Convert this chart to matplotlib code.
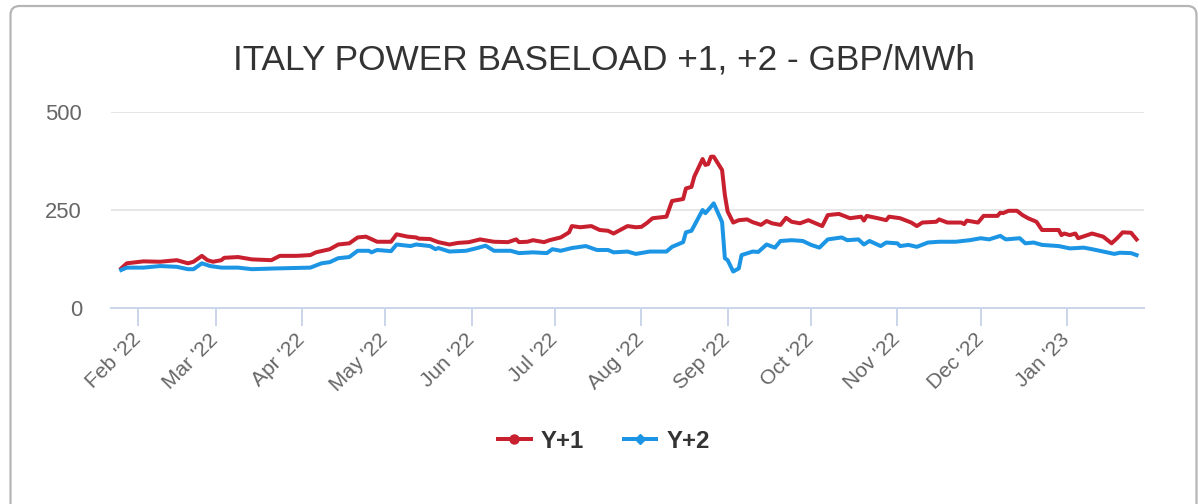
# coding: utf-8
import numpy as np
import pandas as pd
import matplotlib
matplotlib.use("Agg")
import matplotlib.pyplot as plt
import matplotlib.dates as mdates
import matplotlib.transforms as mtransforms
from matplotlib.lines import Line2D
from matplotlib.patches import FancyBboxPatch

out_file = 'out.png'

title = "ITALY POWER BASELOAD +1, +2 - GBP/MWh"
series_names = ['Y+1', 'Y+2']

# Y+1
y1_dates = [
	'2022-01-26', '2022-01-28', '2022-02-03', '2022-02-09', '2022-02-15', '2022-02-19',
	'2022-02-21', '2022-02-24', '2022-02-26', '2022-02-28', '2022-03-03', '2022-03-04',
	'2022-03-09', '2022-03-14', '2022-03-21', '2022-03-24', '2022-03-30', '2022-04-04',
	'2022-04-06', '2022-04-11', '2022-04-14', '2022-04-18', '2022-04-21', '2022-04-24',
	'2022-04-28', '2022-05-03', '2022-05-05', '2022-05-09', '2022-05-12', '2022-05-13',
	'2022-05-17', '2022-05-20', '2022-05-24', '2022-05-27', '2022-05-31', '2022-06-04',
	'2022-06-09', '2022-06-14', '2022-06-17', '2022-06-18', '2022-06-21', '2022-06-23',
	'2022-06-27', '2022-06-29', '2022-07-03', '2022-07-06', '2022-07-07', '2022-07-10',
	'2022-07-14', '2022-07-17', '2022-07-20', '2022-07-22', '2022-07-27', '2022-07-30',
	'2022-08-01', '2022-08-03', '2022-08-05', '2022-08-10', '2022-08-12', '2022-08-16',
	'2022-08-17', '2022-08-19', '2022-08-20', '2022-08-23', '2022-08-24', '2022-08-25',
	'2022-08-26', '2022-08-27', '2022-08-30', '2022-08-31', '2022-09-01', '2022-09-03',
	'2022-09-05', '2022-09-08', '2022-09-10', '2022-09-13', '2022-09-15', '2022-09-17',
	'2022-09-20', '2022-09-22', '2022-09-24', '2022-09-27', '2022-09-30', '2022-10-05',
	'2022-10-07', '2022-10-11', '2022-10-15', '2022-10-19', '2022-10-20', '2022-10-21',
	'2022-10-25', '2022-10-28', '2022-10-29', '2022-11-02', '2022-11-06', '2022-11-08',
	'2022-11-10', '2022-11-15', '2022-11-16', '2022-11-19', '2022-11-24', '2022-11-25',
	'2022-11-26', '2022-11-30', '2022-12-02', '2022-12-07', '2022-12-08', '2022-12-09',
	'2022-12-11', '2022-12-14', '2022-12-16', '2022-12-18', '2022-12-21', '2022-12-23',
	'2022-12-29', '2022-12-30', '2022-12-31', '2023-01-02', '2023-01-04', '2023-01-05',
	'2023-01-10', '2023-01-14', '2023-01-17', '2023-01-19', '2023-01-21', '2023-01-24',
	'2023-01-26',
]
y1_values = [
	101, 114, 119, 118, 122, 114,
	118, 133, 122, 118, 122, 128,
	130, 124, 122, 133, 133, 135,
	142, 150, 162, 165, 180, 182,
	169, 169, 188, 182, 180, 177,
	176, 168, 162, 166, 168, 175,
	169, 168, 175, 168, 169, 173,
	168, 173, 180, 193, 209, 206,
	209, 199, 197, 190, 209, 206,
	207, 217, 229, 233, 273, 278,
	305, 309, 335, 380, 365, 367,
	386, 386, 352, 288, 246, 218,
	224, 226, 219, 212, 222, 216,
	212, 230, 220, 216, 224, 209,
	237, 240, 229, 233, 223, 235,
	229, 224, 233, 229, 218, 209,
	218, 220, 226, 218, 218, 214,
	223, 218, 235, 235, 243, 242,
	248, 248, 237, 229, 220, 199,
	199, 186, 190, 186, 190, 178,
	190, 182, 165, 178, 193, 192,
	175,
]

# Y+2
y2_dates = [
	'2022-01-26', '2022-01-28', '2022-02-03', '2022-02-09', '2022-02-15', '2022-02-19',
	'2022-02-21', '2022-02-24', '2022-02-27', '2022-03-03', '2022-03-09', '2022-03-14',
	'2022-03-23', '2022-04-04', '2022-04-08', '2022-04-11', '2022-04-14', '2022-04-18',
	'2022-04-21', '2022-04-25', '2022-04-26', '2022-04-28', '2022-05-03', '2022-05-05',
	'2022-05-10', '2022-05-12', '2022-05-17', '2022-05-19', '2022-05-20', '2022-05-24',
	'2022-05-30', '2022-06-03', '2022-06-06', '2022-06-09', '2022-06-15', '2022-06-18',
	'2022-06-23', '2022-06-28', '2022-06-30', '2022-07-03', '2022-07-07', '2022-07-12',
	'2022-07-16', '2022-07-20', '2022-07-22', '2022-07-27', '2022-07-30', '2022-08-04',
	'2022-08-10', '2022-08-12', '2022-08-16', '2022-08-17', '2022-08-19', '2022-08-23',
	'2022-08-24', '2022-08-25', '2022-08-27', '2022-08-30', '2022-08-31', '2022-09-01',
	'2022-09-03', '2022-09-05', '2022-09-06', '2022-09-10', '2022-09-12', '2022-09-15',
	'2022-09-18', '2022-09-20', '2022-09-24', '2022-09-28', '2022-10-01', '2022-10-04',
	'2022-10-07', '2022-10-12', '2022-10-14', '2022-10-18', '2022-10-20', '2022-10-22',
	'2022-10-26', '2022-10-28', '2022-11-01', '2022-11-02', '2022-11-05', '2022-11-08',
	'2022-11-12', '2022-11-16', '2022-11-22', '2022-11-27', '2022-12-01', '2022-12-04',
	'2022-12-08', '2022-12-10', '2022-12-15', '2022-12-17', '2022-12-20', '2022-12-23',
	'2022-12-29', '2023-01-02', '2023-01-07', '2023-01-10', '2023-01-14', '2023-01-18',
	'2023-01-20', '2023-01-24', '2023-01-26',
]
y2_values = [
	97, 103, 103, 107, 105, 99,
	99, 114, 107, 103, 103, 99,
	101, 103, 114, 117, 127, 130,
	146, 146, 142, 148, 145, 162,
	158, 162, 158, 150, 153, 144,
	146, 153, 159, 146, 146, 140,
	142, 140, 150, 146, 153, 158,
	148, 148, 142, 144, 138, 144,
	144, 156, 168, 193, 197, 250,
	242, 250, 267, 219, 127, 122,
	93, 101, 135, 144, 143, 162,
	154, 171, 173, 171, 161, 154,
	175, 180, 173, 175, 162, 171,
	158, 167, 165, 158, 161, 156,
	167, 169, 169, 173, 178, 175,
	184, 175, 178, 165, 167, 161,
	158, 152, 154, 150, 144, 138,
	141, 140, 135,
]

colors = ['#c8202f', '#1c95e4']
markers = ['o', 'D']

def px(v):
	# pixels -> points at dpi 100
	return v * 0.72

def make_graph(path):
	fig = plt.figure(figsize=(11.98, 5.04), dpi=100)
	plt.rcParams['font.family'] = ['Liberation Sans', 'DejaVu Sans']

	# rounded frame around the chart
	frame = FancyBboxPatch((10.5, -20), 1186, 518,
		boxstyle='round,pad=0,rounding_size=9', transform=None,
		facecolor='none', edgecolor='#b5b5b5', linewidth=px(2.2))
	fig.add_artist(frame)

	ax = fig.add_axes([111 / 1198, 1 - 308 / 504, (1144 - 111) / 1198, (308 - 112) / 504])

	series = [(y1_dates, y1_values), (y2_dates, y2_values)]
	for (d, v), c in zip(series, colors):
		ax.plot(pd.to_datetime(d), v, color=c, lw=px(4), solid_joinstyle='round', zorder=3)

	ax.set_ylim(0, 500)
	ax.set_yticks([0, 250, 500])
	ax.set_xlim(pd.Timestamp('2022-01-22 08:00'), pd.Timestamp('2023-01-28 16:00'))
	ax.xaxis.set_major_locator(mdates.MonthLocator())
	ax.xaxis.set_major_formatter(mdates.DateFormatter("%b '%y"))

	ax.grid(axis='y', color='#e6e6e6', lw=px(2))
	ax.set_axisbelow(True)
	for s in ['top', 'right', 'left']:
		ax.spines[s].set_visible(False)
	ax.spines['bottom'].set_color('#ccd6eb')
	ax.spines['bottom'].set_linewidth(px(2))
	ax.spines['bottom'].set_zorder(4)

	ax.tick_params(axis='y', length=0, pad=px(29), labelsize=px(22), labelcolor='#666666')
	ax.tick_params(axis='x', length=px(18), width=px(2), color='#ccd6eb',
		pad=px(6), labelsize=px(21), labelcolor='#666666')
	shift = mtransforms.ScaledTranslation(-7 / 100, 2 / 100, fig.dpi_scale_trans)
	for lab in ax.get_xticklabels():
		lab.set_rotation(45)
		lab.set_ha('right')
		lab.set_va('top')
		lab.set_rotation_mode('anchor')
		lab.set_transform(lab.get_transform() + shift)

	fig.text(604 / 1198, 1 - 60 / 504, title, ha='center', va='center',
		fontsize=px(35.3), color='#333333')

	handles = [Line2D([], [], color=c, lw=px(4), marker=m, markersize=px(9 if m == 'o' else 7))
		for c, m in zip(colors, markers)]
	fig.legend(handles, series_names, loc='center', bbox_to_anchor=(604 / 1198, 1 - 441 / 504),
		ncol=2, frameon=False, handlelength=1.35, handletextpad=0.42, columnspacing=1.67,
		prop={'size': px(24), 'weight': 'bold'}, labelcolor='#333333')

	fig.savefig(path, dpi=100)

def main():
	make_graph(out_file)

if __name__ == "__main__":
	main()
